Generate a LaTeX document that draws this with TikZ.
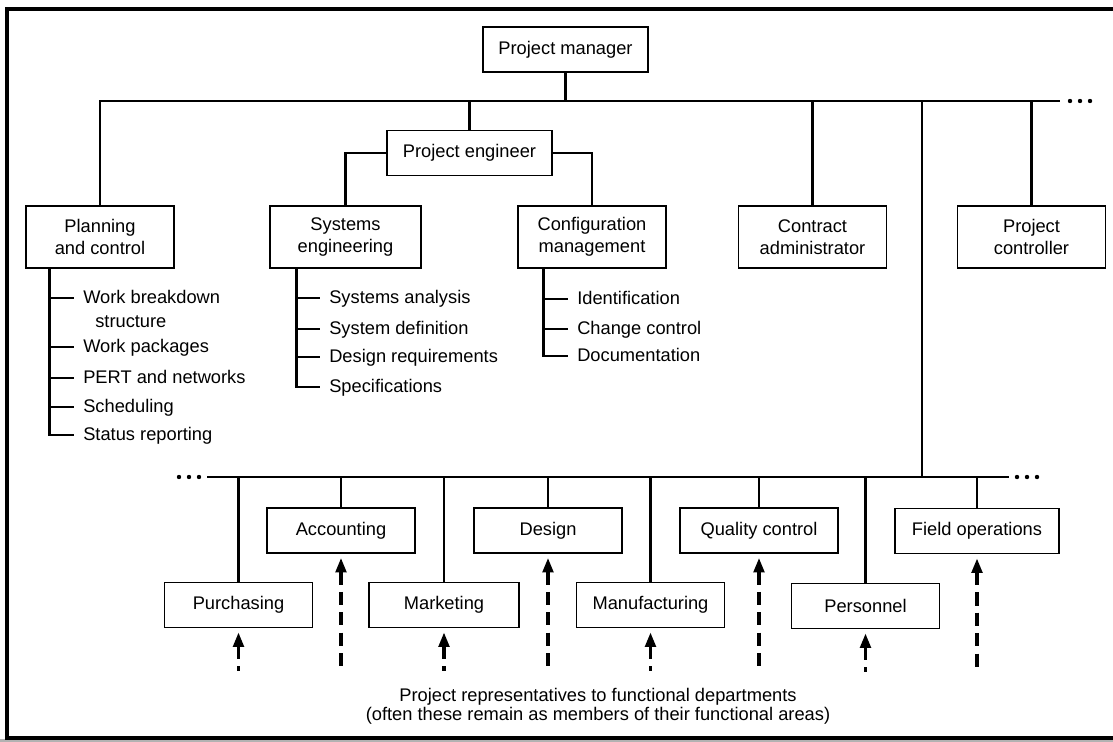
\documentclass[tikz,border=0pt]{standalone}
\usepackage{fontspec}
\setmainfont{Liberation Sans}
\usetikzlibrary{arrows.meta}
\begin{document}
\begin{tikzpicture}[x=0.025cm,y=-0.025cm,font=\fontsize{13}{15.5}\selectfont,
  unit/.style={draw,line width=1.2pt,minimum width=3.7cm,minimum height=1.125cm,inner sep=0pt,align=center},
  twoline/.style={unit,minimum height=1.55cm},
  item/.style={anchor=west,inner xsep=0.225cm,inner ysep=0pt,text height=0.72em,text depth=0pt},
  link/.style={line width=2pt},
  rep/.style={line width=2.4pt,dash pattern=on 0.33cm off 0.18cm,{Triangle[length=3.6mm,width=2.6mm]}-,shorten <=1mm}]
 \useasboundingbox (0,0) rectangle (1113,742);
 \fill[white] (0,0) rectangle (1113,742);
 \fill[gray!60] (0,739) rectangle (1113,742);
 \draw[line width=2.4pt] (7,9) rectangle (1130,738);
 % project office
 \node[unit,minimum width=4.125cm] (pm) at (565.5,49.5) {Project manager};
 \node[unit,minimum width=4.125cm] (pe) at (469.5,153) {Project engineer};
 \node[twoline] (plan) at (100,237) {Planning\\and control};
 \node[twoline,minimum width=3.775cm] (sys) at (345.5,237) {Systems\\engineering};
 \node[twoline] (cfg) at (592,237) {Configuration\\management};
 \node[twoline] (con) at (812.5,237) {Contract\\administrator};
 \node[twoline] (ctl) at (1031.5,237) {Project\\controller};
 \coordinate (tb) at (1060,101);
 \coordinate (jn) at (922,101);
 \draw[link] (plan.north) |- (tb);
 \foreach \n in {pm,pe,con,ctl} \draw[link] (\n) -- (\n |- tb);
 \draw[link] (pe.west) -| (sys.north);
 \draw[link] (pe.east) -| (cfg.north);
 \foreach \x in {1070,1080,1090} \fill (\x,101) circle (0.055cm);
 % task lists
 \node[item] (wbs) at (74,298) {Work breakdown};
 \node[item] (wbs2) at (86,322) {structure};
 \node[item] (wp) at (74,347) {Work packages};
 \node[item] (pert) at (74,378) {PERT and networks};
 \node[item] (sch) at (74,407) {Scheduling};
 \node[item] (sr) at (74,435) {Status reporting};
 \coordinate (ps) at ([xshift=0.6cm]plan.south west);
 \draw[link] (ps) |- (sr.west);
 \foreach \n in {wbs,wp,pert,sch} \draw[link] (ps |- \n.west) -- (\n.west);
 \node[item] (sa) at (320,298) {Systems analysis};
 \node[item] (sd) at (320,329) {System definition};
 \node[item] (dr) at (320,357) {Design requirements};
 \node[item] (sp) at (320,387) {Specifications};
 \coordinate (ss) at ([xshift=0.675cm]sys.south west);
 \draw[link] (ss) |- (sp.west);
 \foreach \n in {sa,sd,dr} \draw[link] (ss |- \n.west) -- (\n.west);
 \node[item] (id) at (568,299) {Identification};
 \node[item] (cc) at (568,329) {Change control};
 \node[item] (doc) at (568,356) {Documentation};
 \coordinate (cs) at ([xshift=0.65cm]cfg.south west);
 \draw[link] (cs) |- (doc.west);
 \foreach \n in {id,cc} \draw[link] (cs |- \n.west) -- (\n.west);
 % functional departments
 \node[unit] (pur) at (238.5,605) {Purchasing};
 \node[unit] (acc) at (341,530.5) {Accounting};
 \node[unit,minimum width=3.75cm] (mkt) at (444,605) {Marketing};
 \node[unit] (des) at (548,530.5) {Design};
 \node[unit] (mfg) at (650.5,605) {Manufacturing};
 \node[unit,minimum width=3.95cm] (qc) at (759,530.5) {Quality control};
 \node[unit] (per) at (865.5,606) {Personnel};
 \node[unit,minimum width=4.1cm] (fop) at (977,531) {Field operations};
 \coordinate (lbl) at (207,477);
 \coordinate (lbr) at (1009,477);
 \draw[link] (lbl) -- (lbr);
 \draw[link] (jn) -- (jn |- lbr);
 \foreach \n in {pur,acc,mkt,des,mfg,qc,per,fop} \draw[link] (\n.north) -- (\n.north |- lbl);
 \foreach \x in {179,189,199,1017,1027,1037} \fill (\x,477) circle (0.055cm);
 \foreach \n in {pur,mkt,mfg,per} \draw[rep] (\n.south) -- ++(0,43);
 \foreach \n in {acc,des,qc,fop} \draw[rep] (\n.south) -- ++(0,119);
 \node[align=center,font=\fontsize{13}{13.5}\selectfont] (note) at (598,706) {Project representatives to functional departments\\(often these remain as members of their functional areas)};
\end{tikzpicture}
\end{document}
